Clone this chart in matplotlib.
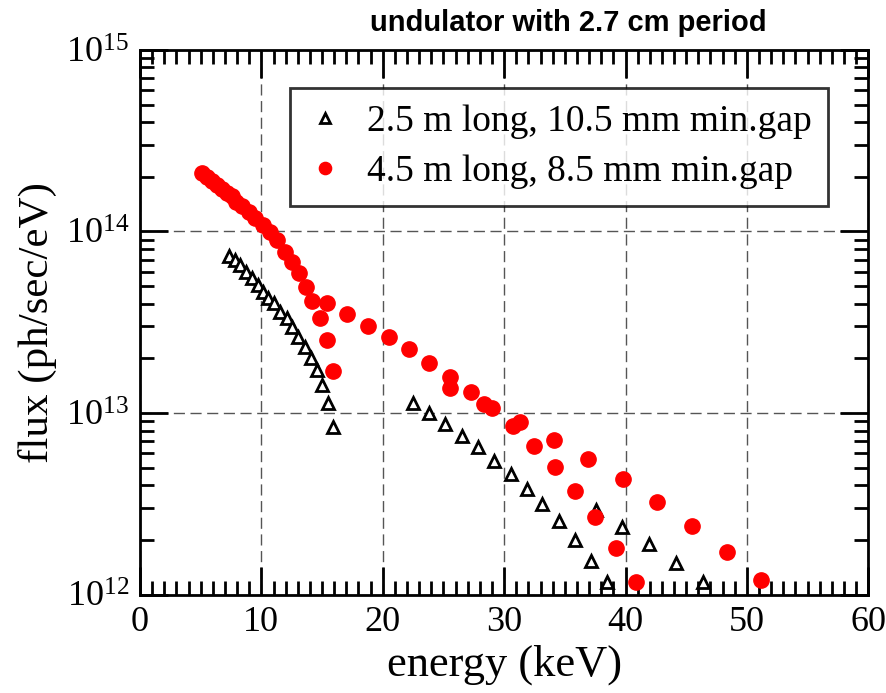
import numpy as np
import matplotlib
matplotlib.use("Agg")
import matplotlib.pyplot as plt
from matplotlib.ticker import MultipleLocator, LogLocator

# 2.5 m long undulator (triangles)
short_energy = [7.37, 7.84, 8.26, 8.75, 9.22, 9.76, 10.17, 10.58, 11.0, 11.55,
                12.1, 12.51, 13.05, 13.6, 14.07, 14.57, 14.98, 15.52, 15.88,
                22.5, 23.8, 25.15, 26.53, 27.84, 29.15, 30.54, 31.85, 33.13,
                34.48, 35.85, 37.12, 38.48,
                37.53, 39.72, 41.94, 44.2, 46.38]
short_flux = [7.33e13, 6.97e13, 6.54e13, 6.01e13, 5.56e13, 5.07e13, 4.66e13,
              4.32e13, 4.02e13, 3.61e13, 3.32e13, 2.99e13, 2.63e13, 2.32e13,
              2.00e13, 1.73e13, 1.43e13, 1.13e13, 8.34e12,
              1.14e13, 9.96e12, 8.66e12, 7.50e12, 6.47e12, 5.46e12, 4.61e12,
              3.81e12, 3.15e12, 2.53e12, 1.99e12, 1.53e12, 1.17e12,
              2.93e12, 2.37e12, 1.90e12, 1.50e12, 1.17e12]

# 4.5 m long undulator (circles)
long_energy = [5.1, 5.5, 5.95, 6.35, 6.75, 7.15, 7.55, 7.95, 8.4, 8.95, 9.5,
               10.15, 10.7, 11.25, 11.95, 12.5, 13.1, 13.7, 14.2, 14.8, 15.4,
               15.9,
               15.4, 17.05, 18.8, 20.5, 22.2, 23.8, 25.5, 25.5, 27.3, 28.35,
               29.0, 30.7, 31.3, 32.45, 34.1, 34.15, 35.8, 36.95, 37.5, 39.25,
               39.8, 40.9, 42.6, 45.45, 48.35, 51.2]
long_flux = [2.11e14, 2.00e14, 1.90e14, 1.80e14, 1.71e14, 1.63e14, 1.56e14,
             1.46e14, 1.38e14, 1.28e14, 1.18e14, 1.09e14, 9.98e13, 8.98e13,
             7.71e13, 6.79e13, 5.87e13, 4.97e13, 4.14e13, 3.33e13, 2.51e13,
             1.71e13,
             4.04e13, 3.51e13, 3.03e13, 2.61e13, 2.24e13, 1.89e13, 1.57e13,
             1.37e13, 1.30e13, 1.12e13, 1.06e13, 8.48e12, 8.96e12, 6.61e12,
             7.14e12, 5.04e12, 3.72e12, 5.58e12, 2.66e12, 1.81e12, 4.31e12,
             1.17e12, 3.24e12, 2.39e12, 1.71e12, 1.20e12]

plt.rcParams["font.family"] = ["Liberation Serif", "DejaVu Serif"]
plt.rcParams["mathtext.fontset"] = "custom"
plt.rcParams["mathtext.rm"] = "Liberation Serif"

fig = plt.figure(figsize=(8.86, 6.93), dpi=100)
ax = fig.add_axes([0.158, 0.142, 0.822, 0.786])

ax.plot(short_energy, short_flux, linestyle="none", marker="^", markersize=9,
        markerfacecolor="white", markeredgecolor="black", markeredgewidth=2.0,
        label="2.5 m long, 10.5 mm min.gap", zorder=3)
ax.plot(long_energy, long_flux, linestyle="none", marker="o", markersize=11,
        markerfacecolor="#ff0000", markeredgecolor="#ff0000",
        label="4.5 m long, 8.5 mm min.gap", zorder=3)

ax.set_yscale("log")
ax.set_xlim(0, 60)
ax.set_ylim(1e12, 1e15)
ax.xaxis.set_major_locator(MultipleLocator(10))
ax.xaxis.set_minor_locator(MultipleLocator(1))
ax.yaxis.set_major_locator(LogLocator(base=10, numticks=10))
ax.yaxis.set_minor_locator(LogLocator(base=10, subs=np.arange(2, 10), numticks=20))

ax.tick_params(which="both", direction="in", top=True, right=True, width=2)
ax.tick_params(which="major", length=20, labelsize=26, pad=8)
ax.tick_params(which="minor", length=10)
for s in ax.spines.values():
    s.set_linewidth(2)

ax.grid(True, which="major", color="#555555", linestyle=(0, (8, 4)), linewidth=1)

ax.set_xlabel("energy (keV)", fontsize=32, labelpad=4)
ax.set_ylabel("flux (ph/sec/eV)", fontsize=31, labelpad=6)

leg = ax.legend(loc="upper right", bbox_to_anchor=(0.945, 0.93), fontsize=27,
                frameon=True, fancybox=False, handletextpad=0.6,
                borderpad=0.45, labelspacing=0.4, handlelength=1.0,
                markerscale=0.8, borderaxespad=0)
leg.get_frame().set_edgecolor("black")
leg.get_frame().set_linewidth(2)

fig.text(0.641, 0.967, "undulator with 2.7 cm period", ha="center", va="center",
         fontsize=21, fontweight="bold", family="Liberation Sans")

fig.savefig("out.png", dpi=100)
